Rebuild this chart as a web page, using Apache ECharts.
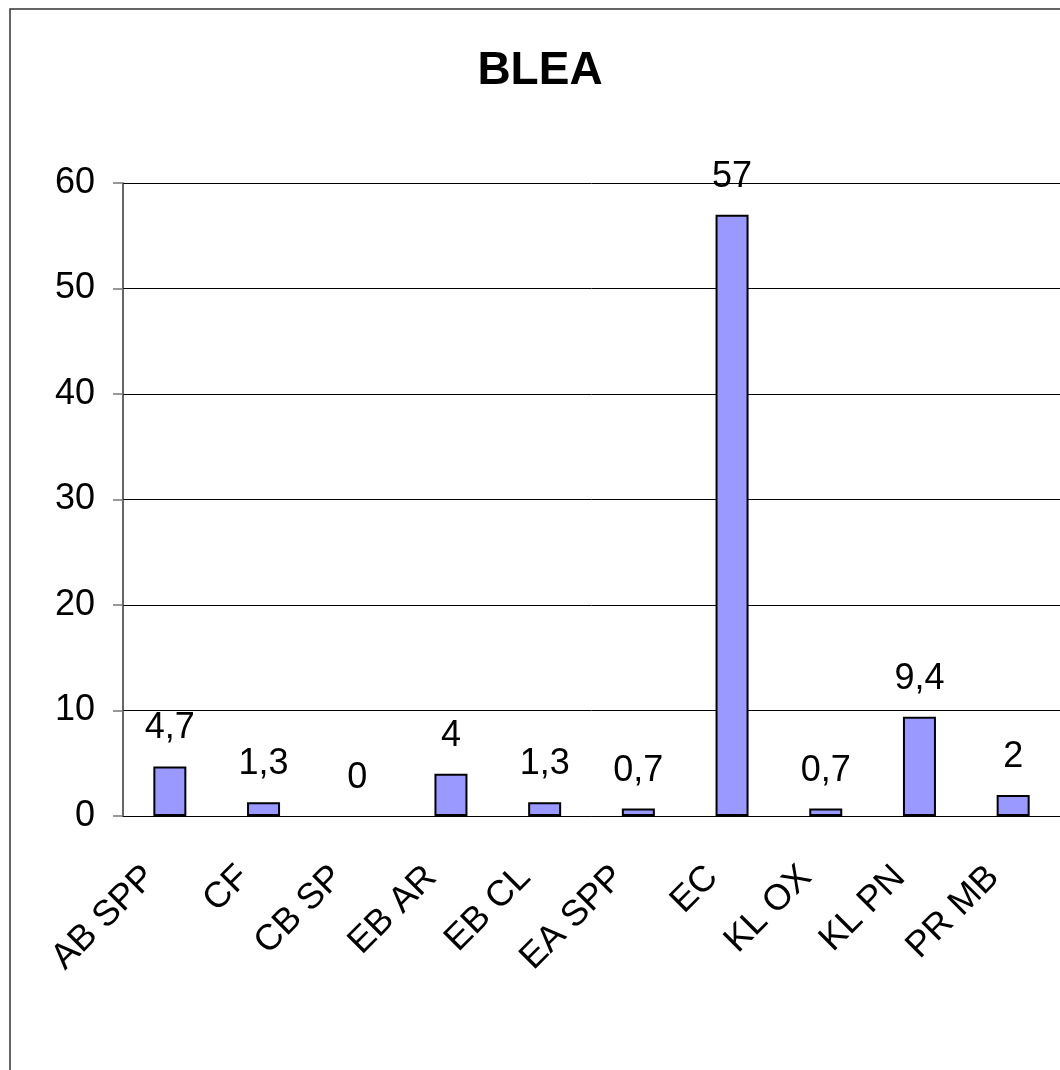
<!DOCTYPE html>
<html>
<head>
<meta charset="utf-8">
<script src="https://cdn.jsdelivr.net/npm/echarts@6/dist/echarts.min.js"></script>
<style>
  html, body { margin: 0; padding: 0; background: #fff; }
  #chart { width: 1060px; height: 1070px; }
</style>
</head>
<body>
<div id="chart"></div>
<script>
const categories = ['AB SPP', 'CF', 'CB SP', 'EB AR', 'EB CL', 'EA SPP', 'EC', 'KL OX', 'KL PN', 'PR MB'];
const values = [4.7, 1.3, 0, 4, 1.3, 0.7, 57, 0.7, 9.4, 2];
const yTicks = [0, 10, 20, 30, 40, 50, 60];

const FONT = '"Liberation Sans", Arial, sans-serif';
const chart = echarts.init(document.getElementById('chart'), null, { renderer: 'canvas' });

// zero-height bars get no outline so only their label shows
const barData = values.map(v => v === 0 ? { value: v, itemStyle: { borderWidth: 0 } } : v);

chart.setOption({
  animation: false,
  backgroundColor: '#ffffff',
  title: {
    text: 'BLEA',
    left: 535,
    textAlign: 'center',
    top: 43,
    textStyle: { fontFamily: FONT, fontSize: 46, fontWeight: 'bold', color: '#000' }
  },
  graphic: [{
    type: 'rect',
    shape: { x: 10, y: 9, width: 1100, height: 1100 },
    style: { fill: 'none', stroke: '#333', lineWidth: 1.5 },
    silent: true
  }],
  grid: { left: 123, top: 183, width: 944, height: 633 },
  xAxis: {
    type: 'category',
    data: categories,
    axisLine: { lineStyle: { color: '#000', width: 1 } },
    axisTick: { show: false },
    axisLabel: {
      rotate: 45,
      interval: 0,
      margin: 36,
      padding: [0, 28, 0, 0],
      fontFamily: FONT,
      fontSize: 36,
      color: '#000'
    }
  },
  yAxis: {
    type: 'value',
    min: yTicks[0],
    max: yTicks[yTicks.length - 1],
    interval: 10,
    axisLine: { show: true, lineStyle: { color: '#333', width: 1.5 } },
    axisTick: { show: true, length: 10, lineStyle: { color: '#777', width: 1.5 } },
    splitLine: { lineStyle: { color: '#000', width: 1 } },
    axisLabel: {
      margin: 28,
      fontFamily: FONT,
      fontSize: 36,
      color: '#000'
    }
  },
  series: [{
    type: 'bar',
    data: barData,
    barWidth: 33,
    itemStyle: { color: '#9999FF', borderColor: '#000', borderWidth: 2 },
    label: {
      show: true,
      position: 'top',
      distance: 20,
      fontFamily: FONT,
      fontSize: 36,
      color: '#000',
      formatter: p => String(p.value).replace('.', ',')
    }
  }]
});
</script>
</body>
</html>
